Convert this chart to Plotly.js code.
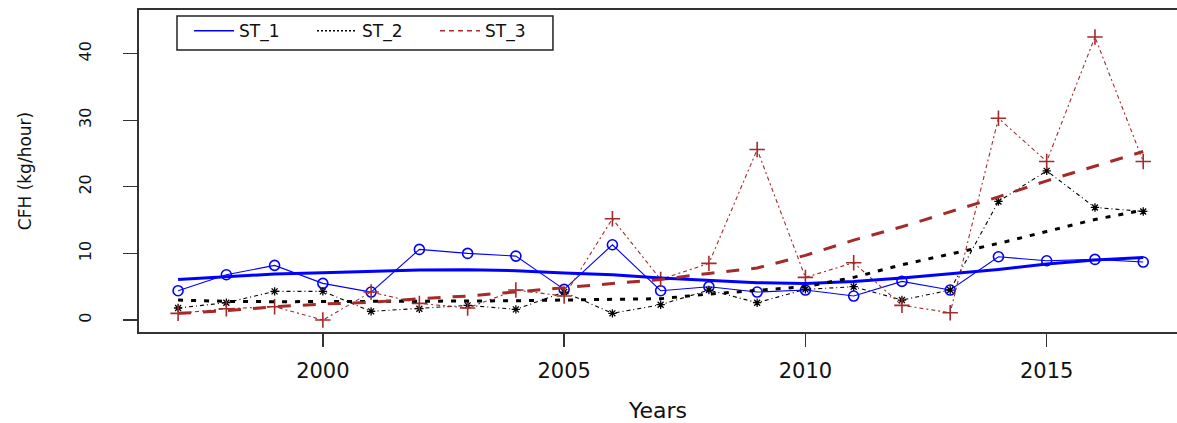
<!DOCTYPE html>
<html>
<head>
<meta charset="utf-8">
<script src="https://cdn.plot.ly/plotly-3.0.1.min.js"></script>
<style>html,body{margin:0;padding:0;background:#fff;}#chart{width:1177px;height:423px;}</style>
</head>
<body>
<div id="chart"></div>
<script>
// Years (x categories)
var years = [1997, 1998, 1999, 2000, 2001, 2002, 2003, 2004, 2005, 2006, 2007,
             2008, 2009, 2010, 2011, 2012, 2013, 2014, 2015, 2016, 2017];

// Observed CFH (kg/hour)
var st1 = [4.4, 6.8, 8.2, 5.5, 4.2, 10.6, 10.0, 9.6, 4.6, 11.3, 4.4,
           5.0, 4.2, 4.5, 3.6, 5.8, 4.5, 9.5, 8.9, 9.1, 8.7];
var st2 = [1.8, 2.6, 4.3, 4.3, 1.3, 1.7, 2.2, 1.6, 4.2, 1.0, 2.3,
           4.5, 2.6, 4.6, 5.0, 3.0, 4.5, 17.8, 22.4, 16.9, 16.3];
var st3 = [1.0, 1.7, 2.0, 0.0, 4.2, 2.5, 1.8, 4.5, 3.6, 15.2, 6.1,
           8.5, 25.6, 6.4, 8.6, 2.2, 1.1, 30.3, 23.8, 42.5, 23.8];

// Smoothed trends
var st1Smooth = [6.1, 6.5, 6.9, 7.1, 7.3, 7.5, 7.55, 7.4, 7.05, 6.8, 6.3,
                 6.0, 5.6, 5.5, 5.8, 6.3, 6.9, 7.6, 8.4, 9.0, 9.4];
var st2Smooth = [3.0, 2.8, 2.75, 2.75, 2.75, 2.8, 2.85, 2.9, 3.0, 3.05, 3.2,
                 3.9, 4.4, 5.0, 6.4, 8.3, 9.9, 11.5, 13.3, 15.1, 16.5];
var st3Smooth = [1.0, 1.4, 2.0, 2.4, 2.65, 3.2, 3.6, 4.2, 4.8, 5.5, 6.1,
                 7.0, 7.8, 9.7, 12.0, 14.0, 16.2, 18.5, 20.9, 23.1, 25.3];

var seriesNames = ['ST_1', 'ST_2', 'ST_3'];
var xTicks = [2000, 2005, 2010, 2015];
var yTicks = [0, 10, 20, 30, 40];

var BLUE = '#0000FF', BLACK = '#000000', BROWN = '#A52A2A';

var traces = [
  {x: years, y: st1, mode: 'lines+markers', showlegend: false,
   line: {color: BLUE, width: 1.1},
   marker: {symbol: 'circle-open', size: 10, color: BLUE, line: {width: 1.6, color: BLUE}}},
  {x: years, y: st2, mode: 'lines+markers', showlegend: false,
   line: {color: BLACK, width: 1.1, dash: '4px,3px,1px,3px'},
   marker: {symbol: 'asterisk-open', size: 7, color: BLACK, line: {width: 1.3, color: BLACK}}},
  {x: years, y: st3, mode: 'lines+markers', showlegend: false,
   line: {color: BROWN, width: 1.1, dash: '2px,3px,4px,3px'},
   marker: {symbol: 'cross-thin-open', size: 11, color: BROWN, line: {width: 1.6, color: BROWN}}},
  {x: years, y: st1Smooth, mode: 'lines', showlegend: false,
   line: {color: BLUE, width: 3}},
  {x: years, y: st2Smooth, mode: 'lines', showlegend: false,
   line: {color: BLACK, width: 3, dash: '5px,8px'}},
  {x: years, y: st3Smooth, mode: 'lines', showlegend: false,
   line: {color: BROWN, width: 3, dash: '13px,12px'}},
  // legend entries
  {x: [null], y: [null], mode: 'lines', name: seriesNames[0], line: {color: BLUE, width: 1.3}},
  {x: [null], y: [null], mode: 'lines', name: seriesNames[1], line: {color: BLACK, width: 1.5, dash: '2px,2px'}},
  {x: [null], y: [null], mode: 'lines', name: seriesNames[2], line: {color: BROWN, width: 1.3, dash: '5px,4px'}}
];

var layout = {
  width: 1177, height: 423,
  margin: {l: 139, r: 0, t: 10, b: 91},
  paper_bgcolor: '#ffffff', plot_bgcolor: '#ffffff',
  font: {family: 'DejaVu Sans, Liberation Sans, Arial, sans-serif', color: '#111'},
  showlegend: true,
  xaxis: {
    range: [1996.19, 2017.70], tickvals: xTicks, ticktext: xTicks.map(String),
    ticks: 'outside', ticklen: 13, tickwidth: 1.3, tickcolor: '#333',
    showline: true, linecolor: '#333', linewidth: 1.6, mirror: true,
    showgrid: false, zeroline: false,
    tickfont: {size: 21, family: 'DejaVu Sans, sans-serif', color: '#111'},
    ticklabelstandoff: 6,
    title: {text: 'Years', font: {size: 22, family: 'DejaVu Sans, sans-serif', color: '#111'}, standoff: 28}
  },
  yaxis: {
    range: [-1.8, 46.55], tickvals: yTicks, ticktext: yTicks.map(String),
    ticks: 'outside', ticklen: 14, tickwidth: 1.3, tickcolor: '#333',
    showline: true, linecolor: '#333', linewidth: 1.6, mirror: false,
    showgrid: false, zeroline: false, tickangle: -90,
    tickfont: {size: 16, family: 'DejaVu Sans, sans-serif', color: '#111'},
    ticklabelstandoff: 26,
    title: {text: 'CFH (kg/hour)', font: {size: 17, family: 'DejaVu Sans, sans-serif', color: '#111'}, standoff: 40}
  },
  legend: {
    orientation: 'h', x: 0.0482, y: 0.99, xanchor: 'left', yanchor: 'top',
    borderwidth: 0, bgcolor: 'rgba(0,0,0,0)',
    font: {size: 17, family: 'DejaVu Sans, sans-serif', color: '#111'},
    itemwidth: 40, entrywidth: 68
  },
  shapes: [
    {type: 'rect', xref: 'paper', yref: 'paper', x0: 0.0366, x1: 0.3988, y0: 0.8758, y1: 0.9814,
     line: {color: '#222', width: 1.5}, fillcolor: '#ffffff', layer: 'above'}
  ]
};

Plotly.newPlot('chart', traces, layout, {staticPlot: true, displayModeBar: false});
</script>
</body>
</html>
